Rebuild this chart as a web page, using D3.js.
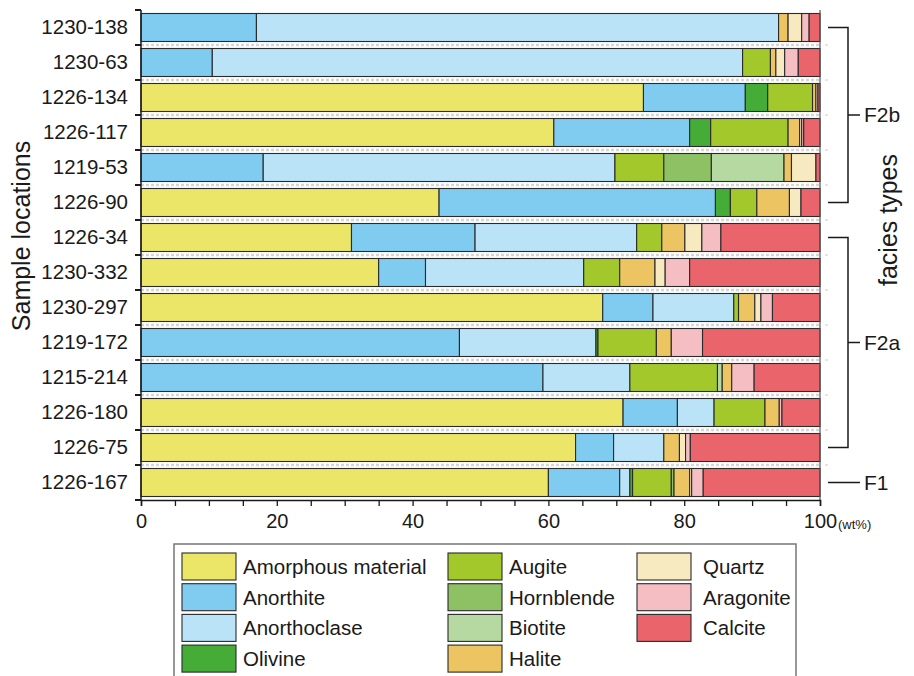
<!DOCTYPE html>
<html>
<head>
<meta charset="utf-8">
<script src="https://cdn.jsdelivr.net/npm/d3@7"></script>
<style>
  body { margin: 0; background: #fff; }
  svg text { font-family: "Liberation Sans", Arial, sans-serif; fill: #1a1a1a; }
</style>
</head>
<body>
<div id="chart"></div>
<script>
// samples, top to bottom
var samples = ["1230-138", "1230-63", "1226-134", "1226-117", "1219-53", "1226-90", "1226-34",
               "1230-332", "1230-297", "1219-172", "1215-214", "1226-180", "1226-75", "1226-167"]

var minerals = ["Amorphous material", "Anorthite", "Anorthoclase", "Olivine", "Augite", "Hornblende",
                "Biotite", "Halite", "Quartz", "Aragonite", "Calcite"]
var mineralColors = ["#ebe667", "#80cbf0", "#bbe3f7", "#46ac38", "#a2c82b", "#8dc163",
                     "#b6d9a2", "#ecc462", "#f7e9c0", "#f5bec3", "#e9646b"]

// wt% per mineral, same order as samples
var amorphous    = [0, 0, 74, 60.8, 0, 43.9, 31, 35, 68, 0, 0, 71, 64, 60]
var anorthite    = [17, 10.5, 15, 20, 18, 40.7, 18.2, 6.9, 7.4, 46.9, 59.2, 8, 5.6, 10.5]
var anorthoclase = [76.9, 78.1, 0, 0, 51.8, 0, 23.8, 23.3, 11.9, 20.1, 12.8, 5.4, 7.4, 1.5]
var olivine      = [0, 0, 3.3, 3.1, 0, 2.2, 0, 0, 0, 0.3, 0, 0, 0, 0.4]
var augite       = [0, 4.1, 6.6, 11.4, 7.2, 3.9, 3.7, 5.3, 0.7, 8.6, 12.9, 7.5, 0, 5.7]
var hornblende   = [0, 0, 0, 0, 7.0, 0, 0, 0, 0, 0, 0, 0, 0, 0.4]
var biotite      = [0, 0, 0, 0, 10.7, 0, 0, 0, 0, 0, 0.7, 0, 0, 0]
var halite       = [1.4, 0.8, 0.5, 1.7, 1.1, 4.8, 3.4, 5.2, 2.4, 2.2, 1.4, 2.1, 2.3, 2.3]
var quartz       = [2.0, 1.3, 0.3, 0.3, 3.6, 1.7, 2.5, 1.5, 0.9, 0, 0, 0, 0.9, 0.3]
var aragonite    = [1.1, 2.0, 0, 0.3, 0, 0, 2.8, 3.6, 1.7, 4.6, 3.3, 0.4, 0.7, 1.7]
var calcite      = [1.6, 3.2, 0.3, 2.4, 0.6, 2.8, 14.6, 19.2, 7.0, 17.3, 9.7, 5.6, 19.1, 17.2]

var xTicks = [0, 20, 40, 60, 80, 100]

// facies groups (first and last sample index)
var facies = [
  {name: "F2b", from: 0, to: 5},
  {name: "F2a", from: 6, to: 12},
  {name: "F1", from: 13, to: 13}
]

var series = [amorphous, anorthite, anorthoclase, olivine, augite, hornblende, biotite, halite, quartz, aragonite, calcite]

// build rows for d3.stack
var rows = samples.map(function (s, i) {
  var r = {sample: s}
  minerals.forEach(function (m, k) { r[m] = series[k][i] })
  return r
})

var width = 914, height = 676
var margin = {top: 10, left: 141, right: 94, bottom: 176}

var svg = d3.select("#chart").append("svg")
  .attr("width", width)
  .attr("height", height)

var x = d3.scaleLinear().domain([0, 100]).range([margin.left, width - margin.right])
var y = d3.scaleBand().domain(samples).range([margin.top, height - margin.bottom])
  .paddingInner(0.2).paddingOuter(0.1)
var color = d3.scaleOrdinal().domain(minerals).range(mineralColors)

var step = y.step()
var bounds = d3.range(samples.length + 1).map(function (i) { return margin.top + i * step })

//* dashed separators in the gaps
svg.append("g").selectAll("line")
  .data(bounds.slice(1, -1))
  .enter().append("line")
  .attr("x1", x(0)).attr("x2", x(100))
  .attr("y1", function (d) { return d }).attr("y2", function (d) { return d })
  .attr("stroke", "#d6d6d6").attr("stroke-width", 2.5)
  .attr("stroke-dasharray", "3,2")

//* stacked bars
var stacked = d3.stack().keys(minerals)(rows)

svg.append("g").selectAll("g")
  .data(stacked)
  .enter().append("g")
  .attr("fill", function (d) { return color(d.key) })
  .selectAll("rect")
  .data(function (d) { return d.filter(function (p) { return p[1] - p[0] > 0 }) })
  .enter().append("rect")
  .attr("x", function (d) { return x(d[0]) })
  .attr("y", function (d) { return y(d.data.sample) })
  .attr("width", function (d) { return x(d[1]) - x(d[0]) })
  .attr("height", y.bandwidth())
  .attr("stroke", "#2a2a2a")
  .attr("stroke-width", 1.1)

//* left axis: labels centred on rows, ticks on row boundaries
var yAxis = svg.append("g")
  .attr("transform", "translate(" + x(0) + ",0)")
  .call(d3.axisLeft(y).tickSize(0).tickPadding(13))
yAxis.select(".domain").remove()
yAxis.selectAll("text")
  .attr("font-size", "20.5px")
  .attr("fill", "#1a1a1a")

svg.append("line")
  .attr("x1", x(0)).attr("x2", x(0))
  .attr("y1", bounds[0]).attr("y2", bounds[bounds.length - 1])
  .attr("stroke", "#1a1a1a").attr("stroke-width", 1.5)
svg.append("g").selectAll("line")
  .data(bounds)
  .enter().append("line")
  .attr("x1", x(0) - 6).attr("x2", x(0))
  .attr("y1", function (d) { return d }).attr("y2", function (d) { return d })
  .attr("stroke", "#1a1a1a").attr("stroke-width", 2)

// right frame line + faint ticks
svg.append("line")
  .attr("x1", x(100)).attr("x2", x(100))
  .attr("y1", bounds[0]).attr("y2", bounds[bounds.length - 1])
  .attr("stroke", "#555").attr("stroke-width", 1.2)
svg.append("g").selectAll("line")
  .data(bounds.slice(1, -1))
  .enter().append("line")
  .attr("x1", x(100) + 5).attr("x2", x(100) + 8)
  .attr("y1", function (d) { return d }).attr("y2", function (d) { return d })
  .attr("stroke", "#ccc").attr("stroke-width", 1)

//* bottom axis
var xAxis = svg.append("g")
  .attr("transform", "translate(0," + (bounds[bounds.length - 1]) + ")")
  .call(d3.axisBottom(x).tickValues(d3.range(0, 101, 5)).tickSize(6).tickPadding(8)
    .tickFormat(function (d) { return xTicks.indexOf(d) >= 0 ? d : "" }))
xAxis.select(".domain").attr("stroke", "#1a1a1a").attr("stroke-width", 1.5)
xAxis.selectAll(".tick line").attr("stroke", "#1a1a1a").attr("stroke-width", 1.3)
xAxis.selectAll("text").attr("font-size", "20px").attr("fill", "#1a1a1a")

svg.append("text")
  .attr("x", x(100) + 18)
  .attr("y", bounds[bounds.length - 1] + 29)
  .attr("font-size", "13px")
  .text("(wt%)")

//* axis titles
svg.append("text")
  .attr("transform", "translate(30," + 236 + ") rotate(-90)")
  .attr("text-anchor", "middle")
  .attr("font-size", "25px")
  .text("Sample locations")

svg.append("text")
  .attr("transform", "translate(897," + 220 + ") rotate(-90)")
  .attr("text-anchor", "middle")
  .attr("font-size", "25px")
  .text("facies types")

//* facies brackets
var bx = x(100) + 28
facies.forEach(function (f) {
  var y0 = y(samples[f.from]) + y.bandwidth() / 2
  var y1 = y(samples[f.to]) + y.bandwidth() / 2
  var ym = (y0 + y1) / 2
  var g = svg.append("g").attr("stroke", "#1a1a1a").attr("stroke-width", 1.5).attr("fill", "none")
  if (f.from == f.to) {
    g.append("line").attr("x1", x(100) + 8).attr("x2", bx + 12).attr("y1", ym).attr("y2", ym)
  } else {
    g.append("path").attr("d", "M" + (x(100) + 8) + "," + y0 + "H" + bx + "V" + y1 + "H" + (x(100) + 8))
    g.append("line").attr("x1", bx).attr("x2", bx + 12).attr("y1", ym).attr("y2", ym)
  }
  svg.append("text")
    .attr("x", bx + 16)
    .attr("y", ym)
    .attr("dy", "0.35em")
    .attr("font-size", "21px")
    .text(f.name)
})

//* legend
var legend = svg.append("g")
legend.append("rect")
  .attr("x", 174).attr("y", 544)
  .attr("width", 622).attr("height", 140)
  .attr("fill", "none").attr("stroke", "#777").attr("stroke-width", 1.5)

var colX = [182, 448, 637]
var perCol = 4
var item = legend.selectAll(".item")
  .data(minerals)
  .enter().append("g")
  .attr("class", "item")
  .attr("transform", function (d, i) {
    var c = Math.floor(i / perCol), r = i % perCol
    if (c == 2) r = i - 8
    return "translate(" + colX[c] + "," + (553 + r * 30.7) + ")"
  })
item.append("rect")
  .attr("width", 54).attr("height", 27)
  .attr("fill", function (d) { return color(d) })
  .attr("stroke", "#2a2a2a").attr("stroke-width", 1.1)
item.append("text")
  .attr("x", function (d, i) { return Math.floor(i / perCol) == 2 ? 66 : 61 })
  .attr("y", 21)
  .attr("font-size", "20.5px")
  .text(function (d) { return d })
</script>
</body>
</html>
